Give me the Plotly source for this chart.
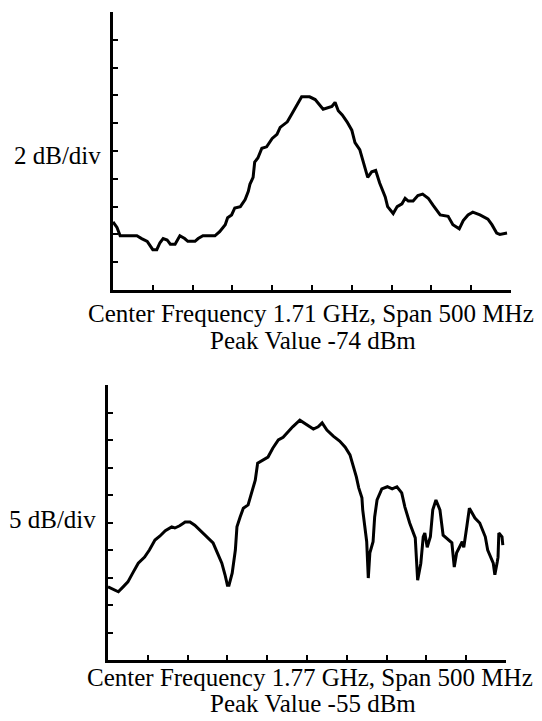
import plotly.graph_objects as go

# ---- Top trace: Center 1.71 GHz, span 500 MHz, 2 dB/div ----
top_freq = [1460, 1465, 1469, 1490, 1496, 1503, 1510, 1515, 1519, 1523, 1528, 1532, 1538,
            1544, 1550, 1554, 1563, 1567, 1573, 1588, 1594, 1601, 1604, 1609, 1613, 1620,
            1626, 1630, 1632, 1636, 1638, 1642, 1647, 1653, 1660, 1666, 1670, 1679, 1685,
            1691, 1697, 1707, 1714, 1724, 1735, 1739, 1743, 1748, 1754, 1760, 1764, 1770,
            1773, 1777, 1780, 1785, 1790, 1795, 1802, 1805, 1812, 1817, 1823, 1827, 1831,
            1837, 1843, 1849, 1856, 1862, 1871, 1881, 1887, 1895, 1900, 1906, 1912, 1921,
            1927, 1931, 1936, 1942, 1946, 1955]
top_dbm = [-83.1, -83.5, -84.1, -84.1, -84.3, -84.5, -85.1, -85.1, -84.6, -84.3, -84.4, -84.7, -84.7,
           -84.1, -84.3, -84.5, -84.5, -84.3, -84.1, -84.1, -83.8, -83.3, -82.8, -82.6, -82.1, -82.0,
           -81.5, -80.9, -80.4, -79.9, -78.8, -78.5, -77.8, -77.7, -77.1, -76.8, -76.3, -75.9, -75.3,
           -74.7, -74.1, -74.1, -74.3, -75.0, -74.8, -74.5, -75.1, -75.4, -75.9, -76.5, -77.4, -77.9,
           -78.5, -79.2, -79.9, -79.5, -79.4, -80.3, -81.3, -82.0, -82.5, -82.0, -81.8, -81.4, -81.6,
           -81.6, -81.2, -81.1, -81.4, -81.9, -82.6, -82.7, -83.3, -83.6, -83.0, -82.6, -82.4, -82.6,
           -82.8, -82.9, -83.3, -83.9, -84.0, -83.9]

# ---- Bottom trace: Center 1.77 GHz, span 500 MHz, 5 dB/div ----
bot_freq = [1520, 1533, 1539, 1545, 1551, 1558, 1566, 1572, 1579, 1585, 1592, 1600, 1604, 1610,
            1617, 1623, 1629, 1638, 1646, 1652, 1657, 1663, 1667, 1670, 1672, 1676, 1680, 1682,
            1686, 1690, 1696, 1701, 1705, 1708, 1715, 1721, 1727, 1734, 1740, 1746, 1752, 1761,
            1770, 1778, 1784, 1789, 1795, 1803, 1811, 1818, 1824, 1828, 1832, 1835, 1839, 1840,
            1843, 1845, 1847, 1849, 1853, 1855, 1858, 1864, 1871, 1877, 1883, 1889, 1893, 1899,
            1906, 1908, 1909, 1913, 1916, 1918, 1921, 1925, 1928, 1932, 1937, 1941, 1952, 1955,
            1958, 1965, 1967, 1971, 1974, 1981, 1987, 1994, 1997, 2004, 2006, 2009, 2010, 2011,
            2015, 2016]
bot_dbm = [-85.7, -86.6, -85.7, -84.8, -83.2, -81.4, -80.3, -79.0, -77.2, -76.5, -75.5, -74.8, -75.0, -74.6,
           -73.9, -73.9, -74.5, -75.7, -76.8, -77.7, -79.4, -81.4, -83.5, -85.4, -85.4, -83.2, -79.0, -74.8,
           -73.0, -71.4, -70.8, -68.5, -66.3, -63.2, -62.6, -62.1, -60.5, -59.0, -58.5, -57.5, -56.6, -55.4,
           -56.3, -57.0, -56.6, -55.9, -57.2, -58.3, -59.2, -60.3, -61.7, -63.5, -65.7, -67.7, -69.5, -71.7,
           -74.8, -77.5, -84.1, -79.5, -77.5, -73.0, -69.9, -67.9, -67.5, -67.9, -67.5, -68.6, -71.2, -74.1,
           -76.8, -80.8, -84.5, -81.4, -76.6, -75.9, -78.5, -76.6, -71.7, -69.9, -71.7, -76.3, -77.7, -82.1,
           -79.5, -77.5, -78.5, -74.5, -71.4, -73.2, -74.1, -76.6, -79.0, -81.4, -83.5, -81.2, -80.3, -75.9,
           -76.6, -78.1]

top_xticks = [1460 + 50 * i for i in range(11)]
top_yticks = [-88 + 2 * i for i in range(11)]
bot_xticks = [1520 + 50 * i for i in range(11)]
bot_yticks = [-99 + 5 * i for i in range(11)]

top_labels = ["Center Frequency 1.71 GHz, Span 500 MHz", "Peak Value -74 dBm", "2 dB/div"]
bot_labels = ["Center Frequency 1.77 GHz, Span 500 MHz", "Peak Value -55 dBm", "5 dB/div"]

W, H = 542, 721
FONT = "Liberation Serif"


def py(p):
    return 1 - p / H


def px(p):
    return p / W


fig = go.Figure()
fig.add_trace(go.Scatter(x=top_freq, y=top_dbm, mode="lines", xaxis="x", yaxis="y",
                         line=dict(color="black", width=3), showlegend=False))
fig.add_trace(go.Scatter(x=bot_freq, y=bot_dbm, mode="lines", xaxis="x2", yaxis="y2",
                         line=dict(color="black", width=3), showlegend=False))

axis_common = dict(showgrid=False, zeroline=False, showline=True, linecolor="black",
                   linewidth=3, ticks="inside", ticklen=5, tickwidth=2, tickcolor="black",
                   showticklabels=False, fixedrange=True)

fig.update_layout(
    width=W, height=H,
    margin=dict(l=0, r=0, t=0, b=0),
    paper_bgcolor="white", plot_bgcolor="white",
    xaxis=dict(domain=[px(113), px(511)], range=[1460, 1960], tickvals=top_xticks,
               anchor="y", **axis_common),
    yaxis=dict(domain=[py(290), py(12)], range=[-88, -68], tickvals=top_yticks[:-1],
               anchor="x", **axis_common),
    xaxis2=dict(domain=[px(108), px(506)], range=[1520, 2020], tickvals=bot_xticks,
                anchor="y2", **axis_common),
    yaxis2=dict(domain=[py(660), py(385)], range=[-99, -49], tickvals=bot_yticks,
                anchor="x2", **axis_common),
)

anns = [
    (311, 313, top_labels[0]),
    (313, 340, top_labels[1]),
    (57, 155, top_labels[2]),
    (310, 677, bot_labels[0]),
    (313, 703, bot_labels[1]),
    (52, 519, bot_labels[2]),
]
for x, y, t in anns:
    fig.add_annotation(x=px(x), y=py(y), xref="paper", yref="paper", text=t,
                       showarrow=False, xanchor="center", yanchor="middle",
                       font=dict(family=FONT, size=25, color="black"))

fig.write_html("out.html")
